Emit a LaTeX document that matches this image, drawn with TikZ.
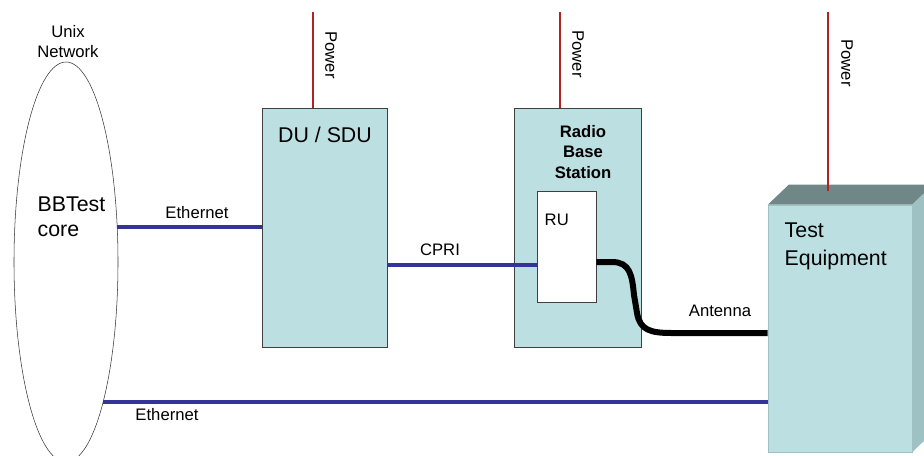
\documentclass[tikz,border=0pt]{standalone}
\usepackage{fontspec}
\setmainfont{Liberation Sans}
\usetikzlibrary{shapes.geometric}

\definecolor{boxfill}{RGB}{188,223,226}
\definecolor{boxtop}{RGB}{112,135,135}
\definecolor{boxside}{RGB}{158,193,195}
\definecolor{ethblue}{RGB}{51,51,153}
\definecolor{powred}{RGB}{178,34,34}

\begin{document}
\begin{tikzpicture}[x=0.75pt,y=-0.75pt,
    box/.style={draw=black!75, fill=boxfill, inner sep=0pt},
    small/.style={font=\fontsize{12.5}{15}\selectfont},
    big/.style={font=\fontsize{16}{19}\selectfont},
    eth/.style={ethblue, line width=3pt},
    power/.style={powred, line width=0.8pt},
    cable/.style={black, line width=4.5pt}]
    \useasboundingbox (0,0) rectangle (924,455);
    \clip (0,0) rectangle (924,455);
    % BBTest core inside the Unix network
    \node[draw=black!80, ellipse, inner sep=0pt, minimum width=78pt,
      minimum height=300pt] (core) at (66,262) {};
    \node[small, align=center] (unix) at (68,42) {Unix\\Network};
    \node[big, align=left, anchor=west] (coretxt) at (33,217) {BBTest\\core};
    % power feeds
    \coordinate (pwdu) at (313,12);
    \coordinate (pwrbs) at (560,12);
    \coordinate (pwte) at (828,12);
    % DU / SDU and the radio base station with its RU
    \node[box, minimum width=93.75pt, minimum height=179.25pt] (du) at (324.5,227.5) {};
    \node[big] (dutxt) at (325,135) {DU / SDU};
    \node[box, minimum width=95.25pt, minimum height=179.25pt] (rbs) at (577.5,227.5) {};
    \node[align=center, font=\fontsize{12.5}{15.4}\selectfont\bfseries]
      (rbstxt) at (583,152) {Radio\\Base\\Station};
    \node[box, fill=white, minimum width=44.25pt, minimum height=83.25pt] (ru) at (566.5,246.5) {};
    \node[small, anchor=west] (rutxt) at (540,220) {RU};
    % test equipment, drawn as a block
    \node[fill=boxfill, draw=boxside, inner sep=0pt, minimum width=108pt,
      minimum height=185.25pt] (te) at (840,328.5) {};
    \fill[boxtop] (te.north west) -- ++(21,-20) -- ++(144,0) -- (te.north east) -- cycle;
    \fill[boxside] (te.north east) -- ++(21,-20) -- ++(0,247) -- (te.south east) -- cycle;
    \node[align=left, anchor=west, font=\fontsize{16}{21}\selectfont] (tetxt) at (780,246) {Test\\Equipment};
    \draw[power] (pwdu) -- (pwdu |- du.north);
    \draw[power] (pwrbs) -- (pwrbs |- rbs.north);
    \draw[power] (pwte) -- (828,191);
    \node[small, rotate=-90] (pwdutxt) at (331,55) {Power};
    \node[small, rotate=-90] (pwrbstxt) at (578,54) {Power};
    \node[small, rotate=-90] (pwtetxt) at (847,63) {Power};
    % links
    \draw[eth] (core.34.5) -- (core.34.5 -| du.west);
    \node[small] (ethtop) at (197,213) {Ethernet};
    \draw[eth] (du.east |- 0,265) -- (ru.west |- 0,265);
    \node[small] (cpri) at (440,250) {CPRI};
    \draw[eth] (core.-75.6) -- (core.-75.6 -| te.west);
    \node[small] (ethbot) at (167,415) {Ethernet};
    \draw[cable] (ru.east |- 0,262) -- (612,262)
      .. controls (630,262) and (632,275) .. (634,295) -- (637,313)
      .. controls (640,330) and (650,333) .. (672,333) -- (te.west |- 0,333);
    \node[small] (antenna) at (720,311) {Antenna};
\end{tikzpicture}
\end{document}
